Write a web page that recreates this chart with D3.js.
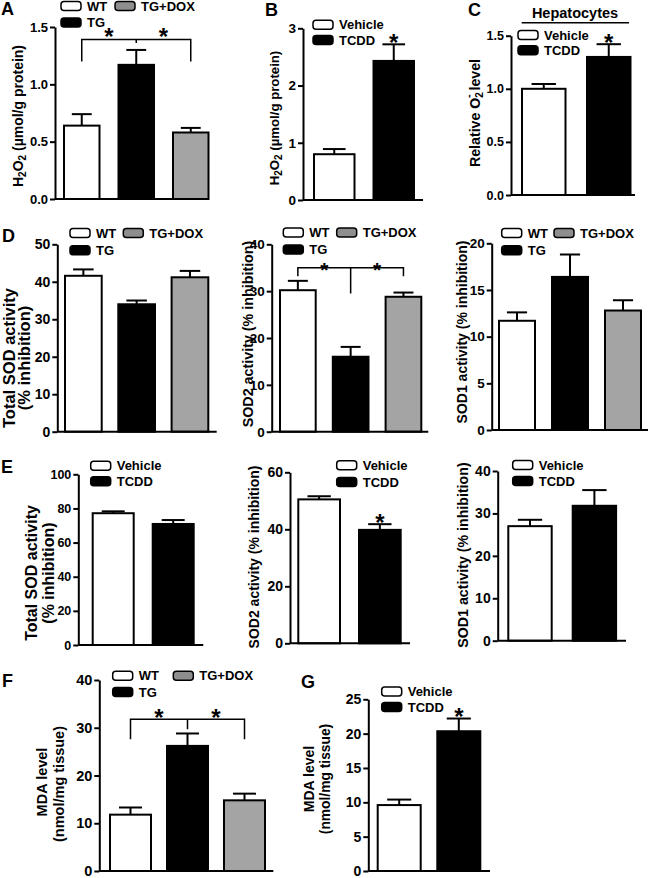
<!DOCTYPE html>
<html><head><meta charset="utf-8">
<script src="https://cdn.jsdelivr.net/npm/d3@7"></script>
<style>
html,body{margin:0;padding:0;background:#fff;}
svg text{font-family:"Liberation Sans",Arial,sans-serif;font-weight:bold;fill:#000;}
</style></head>
<body><svg id="fig" width="650" height="878"></svg>
<script>
// ---------- data ----------
const groupsTG = ["WT", "TG", "TG+DOX"];
const groupsTCDD = ["Vehicle", "TCDD"];

const h2o2TG = [0.64, 1.17, 0.58];
const h2o2TGErr = [0.10, 0.13, 0.04];
const h2o2TCDD = [0.80, 2.43];
const h2o2TCDDErr = [0.09, 0.29];
const o2Hep = [1.00, 1.30];
const o2HepErr = [0.045, 0.12];

const totalSodTG = [41.6, 34.0, 41.2];
const totalSodTGErr = [1.7, 1.0, 1.7];
const sod2TG = [30.2, 16.0, 28.8];
const sod2TGErr = [2.0, 2.1, 0.9];
const sod1TG = [11.7, 16.4, 12.8];
const sod1TGErr = [0.9, 2.4, 1.1];

const totalSodTCDD = [77.2, 70.9];
const totalSodTCDDErr = [1.1, 2.3];
const sod2TCDD = [50.5, 39.8];
const sod2TCDDErr = [1.1, 2.0];
const sod1TCDD = [27.0, 31.8];
const sod1TCDDErr = [1.5, 3.7];

const mdaTG = [11.8, 26.2, 14.8];
const mdaTGErr = [1.5, 2.6, 1.4];
const mdaTCDD = [9.6, 20.35];
const mdaTCDDErr = [0.8, 1.85];

const ticksA = [0, 0.5, 1.0, 1.5];
const ticksB = [0, 1, 2, 3];
const ticksC = [0, 0.5, 1.0, 1.5];
const ticksD1 = [0, 10, 20, 30, 40, 50];
const ticksD2 = [0, 10, 20, 30, 40];
const ticksD3 = [0, 5, 10, 15, 20];
const ticksE1 = [0, 20, 40, 60, 80, 100];
const ticksE2 = [0, 20, 40, 60];
const ticksE3 = [0, 10, 20, 30, 40];
const ticksF = [0, 10, 20, 30, 40];
const ticksG = [0, 5, 10, 15, 20, 25];

// significance brackets: [bar level, end drop, centre drop]
const bracketA = [1.39, 1.20, 1.36];
const bracketD2 = [35.0, 33.2, 29.5];
const bracketF = [31.8, 27.6, 29.7];

// ---------- styles ----------
const barFill = {"WT": "#ffffff", "TG": "#000000", "TG+DOX": "#a4a4a4", "Vehicle": "#ffffff", "TCDD": "#000000"};
const legFill = {"WT": "#ffffff", "TG": "#000000", "TG+DOX": "#8e8e8e", "Vehicle": "#ffffff", "TCDD": "#000000"};

const svg = d3.select("#fig");

function star(g, x, cy, size) {
  // cy = visual centre of the asterisk glyph
  g.append("text").attr("x", x).attr("y", cy + 0.575 * size).attr("text-anchor", "middle")
    .attr("font-size", size).text("*");
}

function panel(c) {
  const g = svg.append("g");
  const n = c.cats.length;
  const pi = 1 - c.barW / c.step;
  const x = d3.scaleBand().domain(c.cats)
    .range([c.barLeft, c.barLeft + c.step * (n - pi)])
    .paddingInner(pi).paddingOuter(0);
  const y = d3.scaleLinear().domain([0, c.max]).range([c.y0, c.yTop]);
  const rows = c.cats.map((k, i) => ({k, v: c.vals[i], e: c.errs[i]}));
  const starSize = c.starSize || 24;

  // error bars (upward)
  const capHalf = x.bandwidth() * 0.28;
  rows.forEach(d => {
    const cx = x(d.k) + x.bandwidth() / 2;
    g.append("line").attr("x1", cx).attr("x2", cx).attr("y1", y(d.v)).attr("y2", y(d.v + d.e))
      .attr("stroke", "#000").attr("stroke-width", 2);
    g.append("line").attr("x1", cx - capHalf).attr("x2", cx + capHalf).attr("y1", y(d.v + d.e)).attr("y2", y(d.v + d.e))
      .attr("stroke", "#000").attr("stroke-width", 2);
  });
  // bars
  g.selectAll("rect.bar").data(rows).join("rect").attr("class", "bar")
    .attr("x", d => x(d.k)).attr("width", x.bandwidth())
    .attr("y", d => y(d.v)).attr("height", d => y(0) - y(d.v))
    .attr("fill", d => barFill[d.k]).attr("stroke", "#000").attr("stroke-width", 2);

  // y axis
  const ax = g.append("g").attr("transform", `translate(${c.axisX},0)`)
    .call(d3.axisLeft(y).tickValues(c.ticks).tickFormat(c.fmt || d3.format("d")).tickSize(5).tickSizeOuter(0).tickPadding(2));
  ax.attr("font-size", c.tickSize).attr("font-family", null);
  ax.select(".domain").attr("stroke-width", 2);
  ax.selectAll(".tick line").attr("stroke-width", 2);
  ax.selectAll(".tick text").attr("font-size", c.tickSize).attr("font-weight", "bold");
  // x axis baseline
  g.append("line").attr("x1", c.axisX).attr("x2", c.axisEnd).attr("y1", y(0)).attr("y2", y(0))
    .attr("stroke", "#000").attr("stroke-width", 2);

  // y label
  c.ylab.forEach(l => {
    const t = g.append("text").attr("transform", `translate(${l.x},${l.y}) rotate(-90)`)
      .attr("text-anchor", "middle").attr("dominant-baseline", "central").attr("font-size", l.size || 14);
    if (l.build) l.build(t); else t.text(l.text);
  });

  // legend
  c.cats.forEach((k, i) => {
    const p = c.leg[i];
    g.append("rect").attr("x", p[0]).attr("y", p[1] - 4.5).attr("width", 20).attr("height", 9).attr("rx", 3)
      .attr("fill", legFill[k]).attr("stroke", "#000").attr("stroke-width", 1.5);
    g.append("text").attr("x", p[0] + 26).attr("y", p[1]).attr("dominant-baseline", "central")
      .attr("font-size", 13).text(k);
  });

  // bracket
  if (c.bracket) {
    const b = c.bracket;
    const xc = k => x(k) + x.bandwidth() / 2;
    const xl = xc(c.cats[0]), xm = xc(c.cats[1]), xr = xc(c.cats[2]);
    const path = d3.path();
    path.moveTo(xl, y(b[1])); path.lineTo(xl, y(b[0])); path.lineTo(xr, y(b[0])); path.lineTo(xr, y(b[1]));
    path.moveTo(xm, y(b[0])); path.lineTo(xm, y(b[2]));
    g.append("path").attr("d", path.toString()).attr("fill", "none").attr("stroke", "#000").attr("stroke-width", 1.5);
    [(xl + xm) / 2, (xm + xr) / 2].forEach(sx => star(g, sx, y(b[0]) - c.starGap, starSize));
  }
  // star above a single bar
  if (c.star) {
    const i = c.cats.indexOf(c.star);
    const sx = x(c.star) + x.bandwidth() / 2;
    star(g, sx, y(c.vals[i] + c.errs[i]) - 7, starSize);
  }
  // panel letter
  if (c.letter) {
    g.append("text").attr("x", c.letter[1]).attr("y", c.letter[2]).attr("font-size", 18).text(c.letter[0]);
  }
  return {g, x, y};
}

const f1 = d3.format(".1f");
const h2o2Label = t => {
  t.append("tspan").text("H");
  t.append("tspan").attr("font-size", 10).attr("dy", 4).text("2");
  t.append("tspan").attr("dy", -4).text("O");
  t.append("tspan").attr("font-size", 10).attr("dy", 4).text("2");
  t.append("tspan").attr("dy", -4).text(" (µmol/g protein)");
};

// A
panel({cats: groupsTG, vals: h2o2TG, errs: h2o2TGErr, axisX: 55, axisEnd: 203, y0: 199, yTop: 27, max: 1.5,
  ticks: ticksA, fmt: f1, tickSize: 13, barLeft: 64, step: 54.5, barW: 35.5,
  ylab: [{x: 18, y: 116, size: 14, build: h2o2Label}],
  leg: [[61, 6], [61, 22.5], [115, 6]], bracket: bracketA, starGap: 8, letter: ["A", 1, 15]});
// B
panel({cats: groupsTCDD, vals: h2o2TCDD, errs: h2o2TCDDErr, axisX: 303, axisEnd: 423, y0: 200, yTop: 28.3, max: 3,
  ticks: ticksB, tickSize: 13.5, barLeft: 314, step: 59.5, barW: 40.5,
  ylab: [{x: 274, y: 118, size: 13.2, build: h2o2Label}],
  leg: [[313, 24.8], [313, 40]], star: "TCDD", letter: ["B", 265, 16]});
// C
const pc = panel({cats: groupsTCDD, vals: o2Hep, errs: o2HepErr, axisX: 511, axisEnd: 635, y0: 195, yTop: 35.7, max: 1.5,
  ticks: ticksC, fmt: f1, tickSize: 12.5, barLeft: 522, step: 65, barW: 43.5,
  ylab: [{x: 475, y: 113, size: 14.2, build: t => {
    t.append("tspan").text("Relative O");
    t.append("tspan").attr("font-size", 10).attr("dy", 4).text("2");
    t.append("tspan").attr("font-size", 11).attr("dy", -11).attr("dx", -6).text("-");
    t.append("tspan").attr("dy", 7).text(" level");
  }}],
  leg: [[518, 35], [518, 50.3]], star: "TCDD", letter: ["C", 468, 16]});
pc.g.append("text").attr("x", 575).attr("y", 18).attr("text-anchor", "middle").attr("font-size", 14.5).text("Hepatocytes");
pc.g.append("line").attr("x1", 521.7).attr("x2", 629).attr("y1", 22.7).attr("y2", 22.7).attr("stroke", "#000").attr("stroke-width", 1.5);

// D1
panel({cats: groupsTG, vals: totalSodTG, errs: totalSodTGErr, axisX: 57.3, axisEnd: 216.7, y0: 431.7, yTop: 244.3, max: 50,
  ticks: ticksD1, tickSize: 14, barLeft: 65, step: 53.3, barW: 36.7,
  ylab: [{x: 9, y: 358, size: 16.5, text: "Total SOD activity"}, {x: 24, y: 358, size: 16.5, text: "(% inhibition)"}],
  leg: [[70, 233], [70, 250.3], [123.3, 233]], letter: ["D", 2, 241.5]});
// D2
panel({cats: groupsTG, vals: sod2TG, errs: sod2TGErr, axisX: 271.7, axisEnd: 428.3, y0: 431.7, yTop: 244.3, max: 40,
  ticks: ticksD2, tickSize: 13.5, barLeft: 280, step: 52.8, barW: 35.7,
  ylab: [{x: 248, y: 334, size: 14.3, text: "SOD2 activity (% inhibition)"}],
  leg: [[283.3, 232.5], [283.3, 249.5], [336.7, 232.5]], bracket: bracketD2, starGap: 3, starSize: 21});
// D3
panel({cats: groupsTG, vals: sod1TG, errs: sod1TGErr, axisX: 491.7, axisEnd: 648, y0: 430, yTop: 243.3, max: 20,
  ticks: ticksD3, tickSize: 13.5, barLeft: 499, step: 53, barW: 36,
  ylab: [{x: 461.5, y: 332, size: 14, text: "SOD1 activity (% inhibition)"}],
  leg: [[501.7, 233], [501.7, 250.3], [554, 233]]});

// E1
panel({cats: groupsTCDD, vals: totalSodTCDD, errs: totalSodTCDDErr, axisX: 78.3, axisEnd: 203.3, y0: 645, yTop: 474.3, max: 100,
  ticks: ticksE1, tickSize: 12.5, barLeft: 92.7, step: 60, barW: 41,
  ylab: [{x: 31.5, y: 573, size: 16, text: "Total SOD activity"}, {x: 48.5, y: 573, size: 16, text: "(% inhibition)"}],
  leg: [[90.7, 465.8], [90.7, 481.3]], letter: ["E", 1, 473]});
// E2
panel({cats: groupsTCDD, vals: sod2TCDD, errs: sod2TCDDErr, axisX: 290, axisEnd: 410, y0: 643.3, yTop: 472.3, max: 60,
  ticks: ticksE2, tickSize: 14, barLeft: 298.3, step: 60.7, barW: 41.7,
  ylab: [{x: 253.5, y: 557, size: 14, text: "SOD2 activity (% inhibition)"}],
  leg: [[336.7, 465.3], [336.7, 482]], star: "TCDD"});
// E3
panel({cats: groupsTCDD, vals: sod1TCDD, errs: sod1TCDDErr, axisX: 497.7, axisEnd: 626, y0: 640.7, yTop: 471, max: 40,
  ticks: ticksE3, tickSize: 14, barLeft: 508.3, step: 64.4, barW: 43.4,
  ylab: [{x: 463, y: 555, size: 14.2, text: "SOD1 activity (% inhibition)"}],
  leg: [[512.7, 465], [512.7, 481]]});

// F
panel({cats: groupsTG, vals: mdaTG, errs: mdaTGErr, axisX: 99.3, axisEnd: 273.3, y0: 871, yTop: 680, max: 40,
  ticks: ticksF, tickSize: 14.5, barLeft: 110, step: 57, barW: 41,
  ylab: [{x: 42, y: 782, size: 14.5, text: "MDA level"}, {x: 59, y: 784, size: 14.5, text: "(nmol/mg tissue)"}],
  leg: [[112.7, 675.8], [112.7, 692], [173.3, 675.8]], bracket: bracketF, starGap: 7, letter: ["F", 2, 687]});
// G
panel({cats: groupsTCDD, vals: mdaTCDD, errs: mdaTCDDErr, axisX: 368.3, axisEnd: 490, y0: 871, yTop: 699.3, max: 25,
  ticks: ticksG, tickSize: 14, barLeft: 377.7, step: 59.6, barW: 43,
  ylab: [{x: 308.5, y: 779, size: 14, text: "MDA level"}, {x: 325.5, y: 779, size: 13.8, text: "(nmol/mg tissue)"}],
  leg: [[381.7, 691.5], [381.7, 707]], star: "TCDD", letter: ["G", 301, 688]});
</script></body></html>
